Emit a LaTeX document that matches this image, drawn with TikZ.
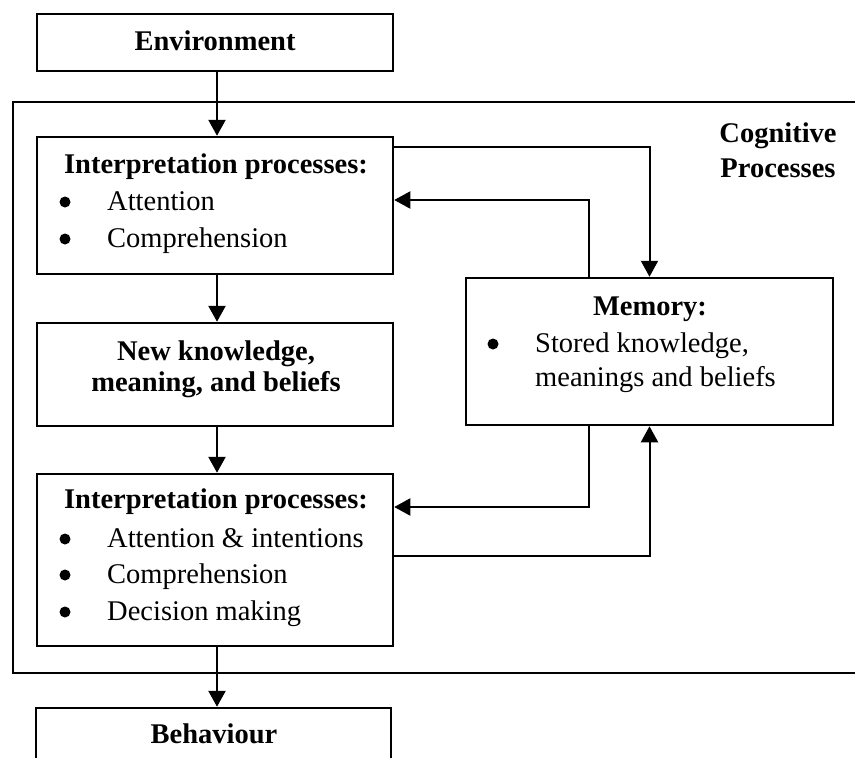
\documentclass[tikz,border=0pt]{standalone}
\usepackage{fontspec}
\setmainfont{Liberation Serif}
\usetikzlibrary{arrows.meta,calc}

\begin{document}
\begin{tikzpicture}[x=1pt,y=-1pt,
  box/.style={draw, line width=2.5pt, inner sep=0pt, minimum width=356pt},
  frame/.style={draw, line width=1.8pt, inner sep=0pt},
  txt/.style={inner sep=0pt, anchor=base, font=\fontsize{28.5}{34}\selectfont},
  hd/.style={txt, font=\fontsize{28.5}{34}\selectfont\bfseries},
  item/.style={txt, anchor=base west},
  dot/.style={circle, fill, inner sep=0pt, minimum size=11pt},
  tip/.style={-{Triangle[length=16pt,width=17pt]}},
  arr/.style={tip, line width=2.6pt},
  link/.style={tip, line width=2pt}
]
\useasboundingbox (0,0) rectangle (855,758);
\clip (0,0) rectangle (855,758);

% outer frame of the cognitive processes (runs past the right edge)
\node[frame, minimum width=867pt, minimum height=571pt] (cog) at (446.5,387.5) {};
\node[hd] (cogA) at (778,142) {Cognitive};
\node[hd] (cogB) at (778,177) {Processes};

% boxes
\node[box, minimum height=57pt]  (env) at (215,42.5) {};
\node[box, minimum height=137pt] (i1)  at (215,205.5) {};
\node[box, minimum height=103pt] (nk)  at (215,374.5) {};
\node[box, minimum height=172pt] (i2)  at (215,560) {};
\node[box, minimum width=367pt, minimum height=147pt] (mem) at (649.5,351.5) {};
\node[box, minimum width=355pt, minimum height=82pt] (beh) at (213.5,749) {};

% texts
\node[hd] (envT) at (215,50) {Environment};

\node[hd] (i1T) at (216,173) {Interpretation processes:};
\node[dot] (i1d1) at (65,202) {};
\node[item] (i1a) at (107,210) {Attention};
\node[dot] (i1d2) at (65,239) {};
\node[item] (i1b) at (107,247) {Comprehension};

\node[hd] (nkA) at (216,360) {New knowledge,};
\node[hd] (nkB) at (216,391) {meaning, and beliefs};

\node[hd] (i2T) at (216,508) {Interpretation processes:};
\node[dot] (i2d1) at (65,539) {};
\node[item] (i2a) at (107,547) {Attention \& intentions};
\node[dot] (i2d2) at (65,575) {};
\node[item] (i2b) at (107,583) {Comprehension};
\node[dot] (i2d3) at (65,612) {};
\node[item] (i2c) at (107,620) {Decision making};

\node[hd] (memT) at (650,315) {Memory:};
\node[dot] (memd) at (493,344) {};
\node[item] (mema) at (535,352) {Stored knowledge,};
\node[item] (memb) at (535,386) {meanings and beliefs};

\node[hd] (behT) at (214,743) {Behaviour};

% main flow
\draw[arr] ([xshift=2pt]env.south) -- ([xshift=2pt]i1.north);
\draw[arr] ([xshift=2pt]i1.south) -- ([xshift=2pt]nk.north);
\draw[arr] ([xshift=2pt]nk.south) -- ([xshift=2pt]i2.north);
\draw[arr] ([xshift=2pt]i2.south) -- ([xshift=3.5pt]beh.north);

% exchanges with memory
\draw[link] ([yshift=-11pt]i1.north east) -| (mem.north);
\draw[link] ([xshift=-60.5pt]mem.north) |- ([yshift=5.5pt]i1.east);
\draw[link] ([xshift=-60.5pt]mem.south) |- ([yshift=53pt]i2.east);
\draw[link] ([yshift=4pt]i2.east) -| (mem.south);
\end{tikzpicture}
\end{document}
